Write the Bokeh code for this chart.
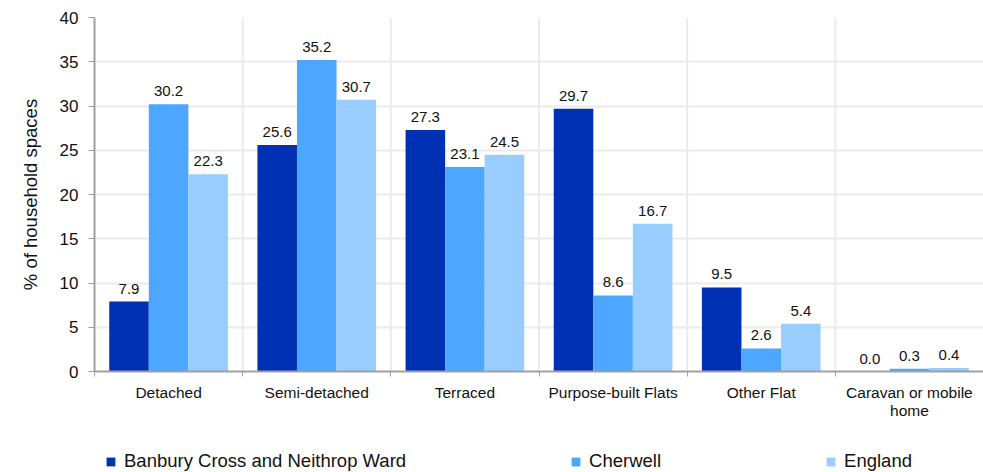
from bokeh.plotting import figure
from bokeh.layouts import column
from bokeh.models import (FactorRange, Legend, LegendItem, Span, LinearAxis,
                          CategoricalAxis, FixedTicker, ColumnDataSource)
from bokeh.transform import dodge
from bokeh.core.properties import value
from bokeh.embed import file_html
from bokeh.resources import INLINE

categories = ["Detached", "Semi-detached", "Terraced", "Purpose-built Flats",
              "Other Flat", "Caravan or mobile home"]
label_line1 = ["Detached", "Semi-detached", "Terraced", "Purpose-built Flats",
               "Other Flat", "Caravan or mobile"]
label_line2 = [" ", "  ", "   ", "    ", "     ", "home"]
series_names = ["Banbury Cross and Neithrop Ward", "Cherwell", "England"]
banbury = [7.9, 25.6, 27.3, 29.7, 9.5, 0.0]
cherwell = [30.2, 35.2, 23.1, 8.6, 2.6, 0.3]
england = [22.3, 30.7, 24.5, 16.7, 5.4, 0.4]
y_ticks = [0, 5, 10, 15, 20, 25, 30, 35, 40]

colors = ["#0031B2", "#4DA6FF", "#99CCFF"]
FONT = "Liberation Sans"

src = ColumnDataSource(dict(
    cat=categories,
    b=banbury, c=cherwell, e=england,
    bt=[f"{v:.1f}" for v in banbury],
    ct=[f"{v:.1f}" for v in cherwell],
    et=[f"{v:.1f}" for v in england],
))

p = figure(width=983, height=430,
           x_range=FactorRange(*categories, range_padding=0),
           y_range=(0, 40),
           output_backend="svg", toolbar_location=None,
           x_axis_location=None,
           min_border_left=94, min_border_top=17, min_border_right=0,
           min_border_bottom=59)
p.extra_x_ranges = {"l1": FactorRange(*label_line1, range_padding=0),
                    "l2": FactorRange(*label_line2, range_padding=0)}
p.outline_line_color = None
p.background_fill_color = "white"

# grid
p.xgrid.visible = False
p.ygrid.ticker = FixedTicker(ticks=y_ticks)
p.ygrid.grid_line_color = "#EBEBEB"
p.ygrid.grid_line_width = 2

for b in range(1, len(categories)):
    p.add_layout(Span(location=b, dimension="height", line_color="#EBEBEB",
                      line_width=2, level="underlay"))

bw = 0.267
series = [("b", -bw, colors[0]), ("c", 0.0, colors[1]), ("e", bw, colors[2])]
for key, off, col in series:
    p.vbar(x=dodge("cat", off, range=p.x_range), top=key, width=bw,
           source=src, fill_color=col, line_color=None)
    p.text(x=dodge("cat", off, range=p.x_range), y=key, text=key + "t",
           source=src, text_align="center", text_baseline="bottom",
           y_offset=-8, text_font=value(FONT), text_font_size="15px",
           text_color="#111111")

# y axis
p.yaxis.ticker = FixedTicker(ticks=y_ticks)
p.yaxis.minor_tick_line_color = None
p.yaxis.major_tick_out = 6
p.yaxis.major_tick_in = 0
p.yaxis.axis_line_color = "#A0A0A0"
p.yaxis.axis_line_width = 2
p.yaxis.major_tick_line_color = "#A0A0A0"
p.yaxis.major_tick_line_width = 1
p.yaxis.major_label_text_font = FONT
p.yaxis.major_label_text_font_size = "17px"
p.yaxis.major_label_text_color = "#111111"
p.yaxis.major_label_standoff = 10
p.yaxis.axis_label = "% of household spaces"
p.yaxis.axis_label_text_font = FONT
p.yaxis.axis_label_text_font_size = "18.5px"
p.yaxis.axis_label_text_font_style = "normal"
p.yaxis.axis_label_text_color = "#111111"
p.yaxis.axis_label_standoff = 16

# x axis: boundary ticks + category labels (two lines for the last one)
tick_axis = LinearAxis(ticker=FixedTicker(ticks=list(range(len(categories) + 1))),
                       major_label_standoff=0,
                       major_label_text_alpha=0, major_label_text_font_size="1px",
                       axis_line_color="#A0A0A0", axis_line_width=2,
                       major_tick_line_color="#A0A0A0", major_tick_out=5,
                       major_tick_in=0, minor_tick_line_color=None)
p.add_layout(tick_axis, "below")

common = dict(axis_line_color=None, major_tick_line_color=None,
              major_tick_out=0, major_tick_in=0,
              major_label_text_font=FONT, major_label_text_font_size="15.5px",
              major_label_text_color="#111111")
cat_axis1 = CategoricalAxis(x_range_name="l1", major_label_standoff=7, **common)
p.add_layout(cat_axis1, "below")
cat_axis2 = CategoricalAxis(x_range_name="l2", major_label_standoff=-2, **common)
p.add_layout(cat_axis2, "below")

# legend strip below the chart
lf = figure(width=983, height=42,
            x_range=FactorRange(*categories, range_padding=0),
            y_range=(100, 101),
            output_backend="svg", toolbar_location=None,
            x_axis_location=None, y_axis_location=None,
            min_border_left=0, min_border_right=0, min_border_top=0,
            min_border_bottom=0)
lf.outline_line_color = None
lf.xgrid.visible = False
lf.ygrid.visible = False
leg_renderers = []
for key, off, col in series:
    leg_renderers.append(lf.vbar(x=dodge("cat", off, range=lf.x_range), top=key,
                                 width=bw, source=src, fill_color=col,
                                 line_color=None))

legend = Legend(items=[LegendItem(label=n, renderers=[r]) for n, r in zip(series_names, leg_renderers)],
                orientation="horizontal", location=(11, 0), spacing=164,
                glyph_width=11, glyph_height=11, label_standoff=8,
                label_text_font=FONT, label_text_font_size="18.5px",
                label_text_color="#111111",
                border_line_alpha=0, background_fill_alpha=0, padding=0, margin=0)
lf.add_layout(legend)

open("out.html", "w").write(file_html(column(p, lf, spacing=0), INLINE))
